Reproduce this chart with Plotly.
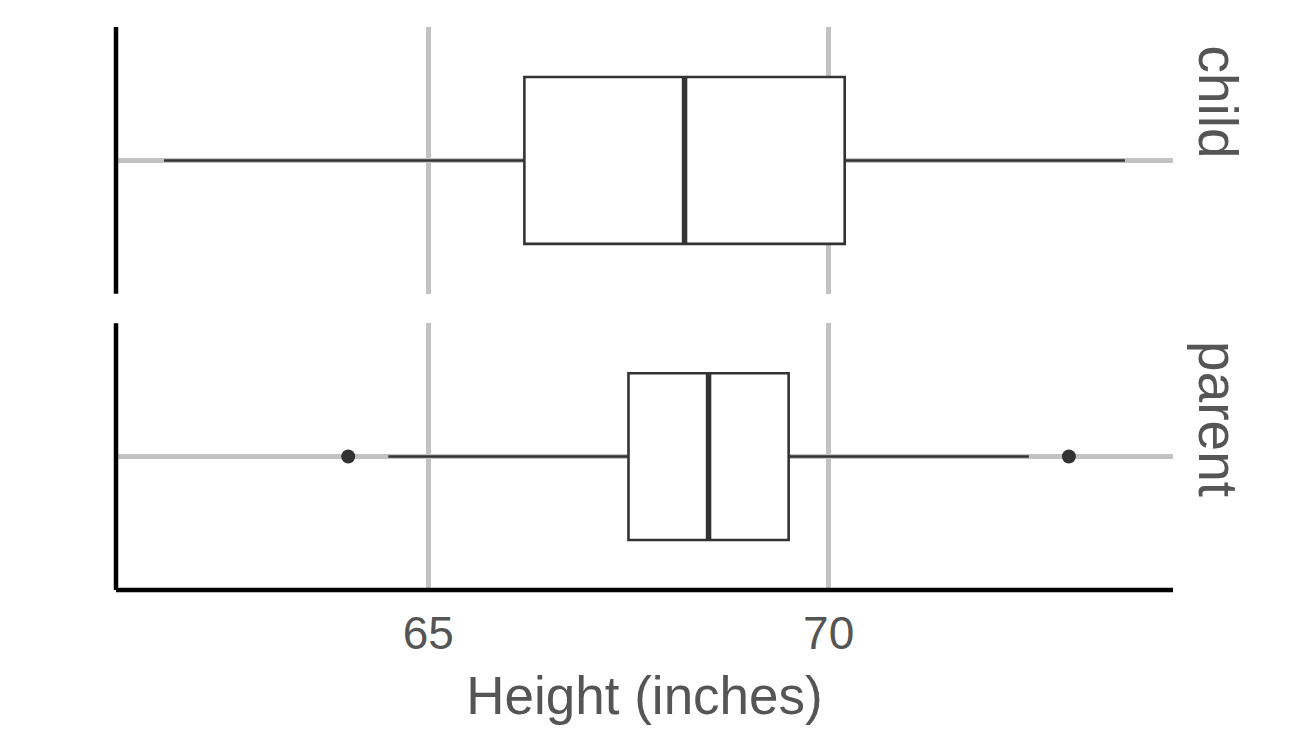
import plotly.graph_objects as go

# ---- data (Galton heights, inches) ----
groups = ["child", "parent"]
lower_whisker = [61.7, 64.5]
q1 = [66.2, 67.5]
median = [68.2, 68.5]
q3 = [70.2, 69.5]
upper_whisker = [73.7, 72.5]
outliers = [[], [64.0, 73.0]]
x_ticks = [65, 70]
x_tick_labels = ["65", "70"]
x_range = [61.1, 74.3]
x_title = "Height (inches)"

BOX_W = 0.75
LINE_C = "#333333"
GRID_C = "#C2C2C2"
TEXT_C = "#555555"
FONT = "Liberation Sans, Arial, sans-serif"

fig = go.Figure()

# top panel = child (x2,y2), bottom panel = parent (x,y)
axes = {"child": ("x2", "y2"), "parent": ("x", "y")}

for i, g in enumerate(groups):
    xa, ya = axes[g]
    fig.add_trace(go.Box(
        y=[1], q1=[q1[i]], median=[median[i]], q3=[q3[i]],
        lowerfence=[lower_whisker[i]], upperfence=[upper_whisker[i]],
        orientation="h", width=BOX_W, whiskerwidth=0,
        fillcolor="white", line=dict(color=LINE_C, width=2.6),
        boxpoints=False, hoverinfo="skip",
        xaxis=xa, yaxis=ya, showlegend=False,
    ))
    # thicker median line
    fig.add_trace(go.Scatter(
        x=[median[i], median[i]], y=[1 - BOX_W / 2, 1 + BOX_W / 2],
        mode="lines", line=dict(color=LINE_C, width=5.5),
        xaxis=xa, yaxis=ya, showlegend=False, hoverinfo="skip",
    ))
    if outliers[i]:
        fig.add_trace(go.Scatter(
            x=outliers[i], y=[1] * len(outliers[i]), mode="markers",
            marker=dict(color=LINE_C, size=14),
            xaxis=xa, yaxis=ya, showlegend=False, hoverinfo="skip",
        ))

common_x = dict(range=x_range, tickvals=x_ticks, ticktext=x_tick_labels,
                showgrid=True, gridcolor=GRID_C, gridwidth=4.5,
                zeroline=False, ticks="", fixedrange=True, showline=False)
common_y = dict(range=[0.4, 1.6], tickvals=[1], showticklabels=False,
                showgrid=True, gridcolor=GRID_C, gridwidth=4.5,
                zeroline=False, ticks="", showline=False)

bottom_dom = [0, 0.474]
top_dom = [0.526, 1]

fig.update_layout(
    width=1296, height=756,
    margin=dict(l=116, r=123, t=27, b=166),
    paper_bgcolor="white", plot_bgcolor="white",
    font=dict(family=FONT, color=TEXT_C),
    showlegend=False,
    xaxis=dict(**common_x, anchor="y", domain=[0, 1],
               tickfont=dict(size=46, color=TEXT_C), ticklabelstandoff=12,
               title=dict(text=x_title, font=dict(size=53, color=TEXT_C), standoff=18)),
    xaxis2=dict(**common_x, anchor="y2", matches="x", domain=[0, 1],
                showticklabels=False),
    yaxis=dict(**common_y, anchor="x", domain=bottom_dom),
    yaxis2=dict(**common_y, anchor="x2", domain=top_dom),
)

# panel axis lines (left on both panels, bottom on the lower panel)
for dom in (bottom_dom, top_dom):
    fig.add_shape(type="line", xref="paper", yref="paper",
                  x0=0, x1=0, y0=dom[0], y1=dom[1],
                  line=dict(color="black", width=4.5), layer="above")
fig.add_shape(type="line", xref="paper", yref="paper",
              x0=0, x1=1, y0=0, y1=0,
              line=dict(color="black", width=4.5), layer="above")

# facet strip labels (right side, rotated, top-justified)
strip_tops = {"child": top_dom[1], "parent": bottom_dom[1]}
for g in groups:
    fig.add_annotation(
        text=g, xref="paper", yref="paper", x=1.0426, y=strip_tops[g],
        xanchor="center", yanchor="top", yshift=-16, textangle=90,
        showarrow=False, font=dict(size=55, color=TEXT_C, family=FONT),
    )

fig.write_html("out.html")
